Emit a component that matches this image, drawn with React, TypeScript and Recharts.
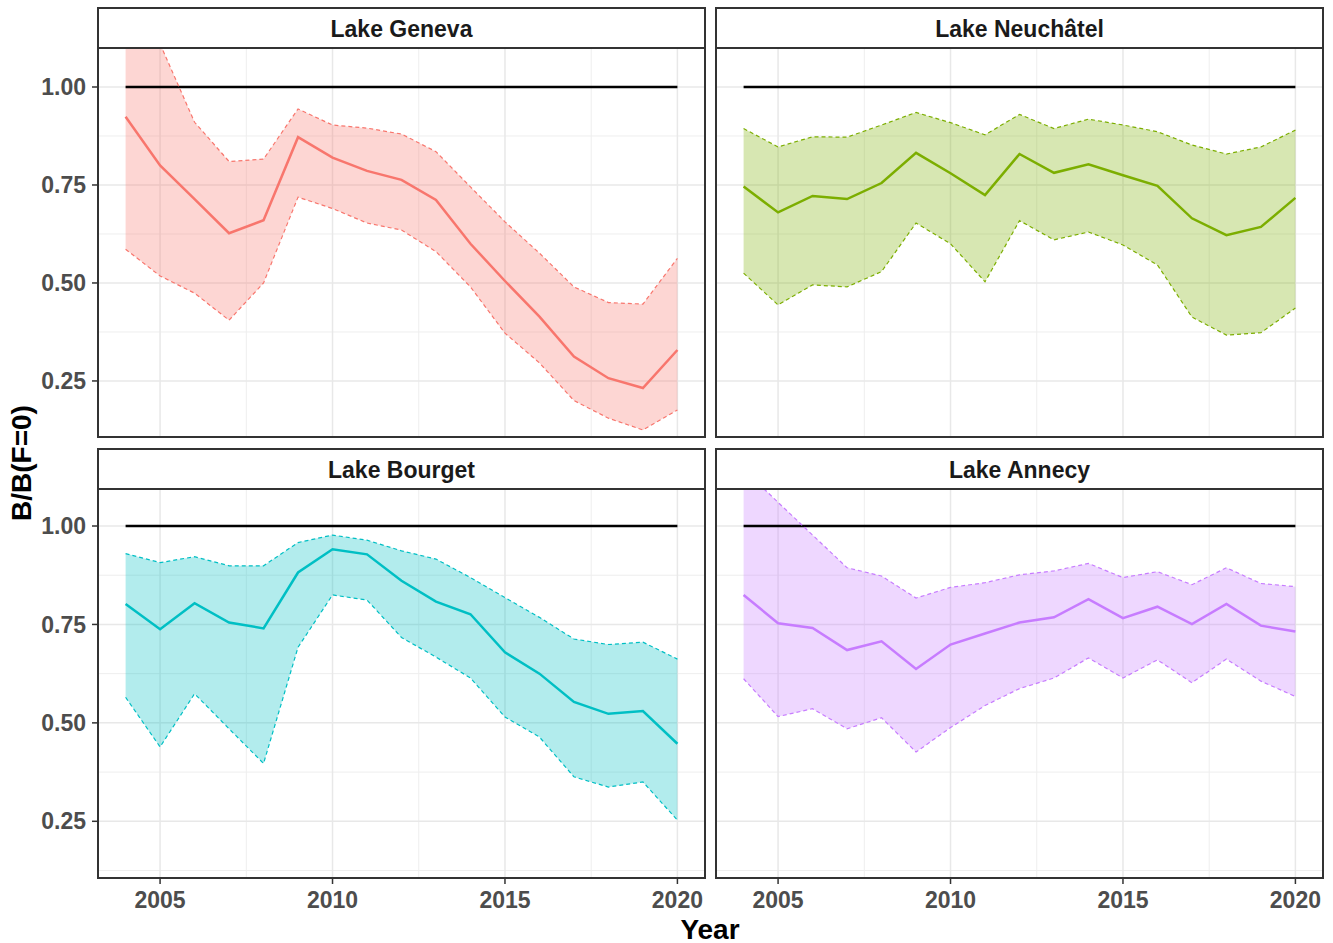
import { ComposedChart, Area, Line, XAxis, YAxis, CartesianGrid, ReferenceLine } from 'recharts'

const FONT = '"Liberation Sans", Arial, Helvetica, sans-serif'

const YEARS = [2004, 2005, 2006, 2007, 2008, 2009, 2010, 2011, 2012, 2013, 2014, 2015, 2016, 2017, 2018, 2019, 2020]

const GENEVA_EST = [0.924, 0.8, 0.714, 0.627, 0.66, 0.872, 0.82, 0.786, 0.763, 0.712, 0.6, 0.505, 0.414, 0.312, 0.257, 0.232, 0.329]
const GENEVA_LO = [0.586, 0.518, 0.474, 0.405, 0.5, 0.719, 0.69, 0.653, 0.635, 0.58, 0.49, 0.372, 0.296, 0.2, 0.155, 0.125, 0.176]
const GENEVA_HI = [1.4, 1.11, 0.91, 0.81, 0.816, 0.944, 0.903, 0.895, 0.88, 0.835, 0.745, 0.656, 0.576, 0.49, 0.45, 0.446, 0.563]

const NEUCHATEL_EST = [0.746, 0.68, 0.722, 0.714, 0.755, 0.832, 0.78, 0.724, 0.829, 0.781, 0.803, 0.775, 0.748, 0.665, 0.622, 0.643, 0.717]
const NEUCHATEL_LO = [0.525, 0.444, 0.495, 0.49, 0.529, 0.653, 0.6, 0.503, 0.659, 0.61, 0.63, 0.597, 0.546, 0.413, 0.367, 0.373, 0.436]
const NEUCHATEL_HI = [0.894, 0.847, 0.873, 0.872, 0.903, 0.935, 0.909, 0.878, 0.93, 0.894, 0.918, 0.903, 0.886, 0.852, 0.829, 0.847, 0.89]

const BOURGET_EST = [0.802, 0.738, 0.804, 0.755, 0.74, 0.882, 0.941, 0.928, 0.861, 0.808, 0.776, 0.679, 0.625, 0.553, 0.523, 0.53, 0.447]
const BOURGET_LO = [0.565, 0.439, 0.574, 0.485, 0.397, 0.692, 0.825, 0.812, 0.717, 0.667, 0.614, 0.515, 0.464, 0.363, 0.337, 0.35, 0.253]
const BOURGET_HI = [0.93, 0.907, 0.922, 0.899, 0.899, 0.958, 0.977, 0.964, 0.937, 0.916, 0.869, 0.818, 0.768, 0.713, 0.699, 0.705, 0.662]

const ANNECY_EST = [0.825, 0.753, 0.741, 0.685, 0.707, 0.637, 0.699, 0.727, 0.755, 0.768, 0.814, 0.766, 0.795, 0.751, 0.802, 0.747, 0.732]
const ANNECY_LO = [0.612, 0.516, 0.536, 0.485, 0.513, 0.426, 0.488, 0.544, 0.587, 0.614, 0.665, 0.614, 0.66, 0.602, 0.662, 0.606, 0.567]
const ANNECY_HI = [1.144, 1.06, 0.977, 0.894, 0.873, 0.817, 0.844, 0.856, 0.876, 0.886, 0.905, 0.869, 0.884, 0.851, 0.894, 0.854, 0.846]

const REF_LEVEL = 1
const X_TICKS = [2005, 2010, 2015, 2020]
const X_MINOR = [2007.5, 2012.5, 2017.5]
const Y_TICKS = [0.25, 0.5, 0.75, 1.0]
const Y_MINOR = [0.125, 0.375, 0.625, 0.875]

const PLOT_W = 607
const PLOT_H = 389
const Y_AXIS_W = 98

const tickStyle = { fontSize: 23, fontWeight: 700, fill: '#4D4D4D', fontFamily: FONT }

interface PanelProps {
  title: string
  est: number[]
  lo: number[]
  hi: number[]
  color: string
  plotLeft: number
  plotTop: number
  showX: boolean
  showY: boolean
  yDomain: [number, number]
}

function Panel({ title, est, lo, hi, color, plotLeft, plotTop, showX, showY, yDomain }: PanelProps) {
  const data = YEARS.map((year, i) => ({ year, est: est[i], lo: lo[i], hi: hi[i], band: [lo[i], hi[i]] }))
  const chartLeft = showY ? plotLeft - Y_AXIS_W : plotLeft
  const w = PLOT_W + (showY ? Y_AXIS_W : 0)
  const h = PLOT_H + (showX ? 50 : 0)

  return (
    <>
      <div style={{ position: 'absolute', left: chartLeft, top: plotTop }}>
        <ComposedChart width={w} height={h} data={data} margin={{ top: 0, right: 0, bottom: 0, left: 0 }}>
          <CartesianGrid horizontalValues={Y_MINOR} verticalValues={X_MINOR} stroke="#EEEEEE" strokeWidth={1} />
          <CartesianGrid horizontalValues={Y_TICKS} verticalValues={X_TICKS} stroke="#E8E8E8" strokeWidth={1.5} />
          <XAxis
            dataKey="year"
            type="number"
            domain={[2003.2, 2020.8]}
            ticks={X_TICKS}
            allowDataOverflow
            hide={!showX}
            height={50}
            axisLine={false}
            tickSize={6}
            tickMargin={8}
            tickLine={{ stroke: '#333333', strokeWidth: 1.5 }}
            tick={tickStyle}
          />
          <YAxis
            type="number"
            domain={yDomain}
            ticks={Y_TICKS}
            allowDataOverflow
            hide={!showY}
            width={Y_AXIS_W}
            axisLine={false}
            tickSize={6}
            tickMargin={6}
            tickLine={{ stroke: '#333333', strokeWidth: 1.5 }}
            tick={tickStyle}
            tickFormatter={(v: number) => v.toFixed(2)}
          />
          <ReferenceLine
            segment={[
              { x: YEARS[0], y: REF_LEVEL },
              { x: YEARS[YEARS.length - 1], y: REF_LEVEL },
            ]}
            stroke="#000000"
            strokeWidth={2.6}
          />
          <Area
            dataKey="band"
            type="linear"
            fill={color}
            fillOpacity={0.3}
            stroke="none"
            isAnimationActive={false}
          />
          <Line dataKey="lo" type="linear" stroke={color} strokeWidth={1.2} strokeDasharray="4 3" dot={false} isAnimationActive={false} />
          <Line dataKey="hi" type="linear" stroke={color} strokeWidth={1.2} strokeDasharray="4 3" dot={false} isAnimationActive={false} />
          <Line dataKey="est" type="linear" stroke={color} strokeWidth={2.5} dot={false} isAnimationActive={false} />
        </ComposedChart>
      </div>
      <div
        style={{
          position: 'absolute',
          left: plotLeft - 1,
          top: plotTop - 1,
          width: PLOT_W + 2,
          height: PLOT_H + 2,
          boxSizing: 'border-box',
          border: '2px solid #333333',
          pointerEvents: 'none',
        }}
      />
      <div
        style={{
          position: 'absolute',
          left: plotLeft - 1,
          top: plotTop - 41,
          width: PLOT_W + 2,
          height: 42,
          boxSizing: 'border-box',
          border: '2px solid #333333',
          background: '#ffffff',
          display: 'flex',
          alignItems: 'center',
          justifyContent: 'center',
          paddingTop: 3,
          fontFamily: FONT,
          fontWeight: 700,
          fontSize: 23,
          color: '#1A1A1A',
        }}
      >
        {title}
      </div>
    </>
  )
}

export default function App() {
  return (
    <div style={{ position: 'absolute', left: 0, top: 0, width: 1333, height: 943, background: '#ffffff' }}>
      <Panel title="Lake Geneva" est={GENEVA_EST} lo={GENEVA_LO} hi={GENEVA_HI} color="#F8766D"
        plotLeft={98} plotTop={48} showX={false} showY yDomain={[0.107, 1.0995]} />
      <Panel title="Lake Neuchâtel" est={NEUCHATEL_EST} lo={NEUCHATEL_LO} hi={NEUCHATEL_HI} color="#7CAE00"
        plotLeft={716} plotTop={48} showX={false} showY={false} yDomain={[0.107, 1.0995]} />
      <Panel title="Lake Bourget" est={BOURGET_EST} lo={BOURGET_LO} hi={BOURGET_HI} color="#00BFC4"
        plotLeft={98} plotTop={489} showX showY yDomain={[0.106, 1.094]} />
      <Panel title="Lake Annecy" est={ANNECY_EST} lo={ANNECY_LO} hi={ANNECY_HI} color="#C77CFF"
        plotLeft={716} plotTop={489} showX showY={false} yDomain={[0.106, 1.094]} />
      <div style={{ position: 'absolute', left: 560, top: 916, width: 300, textAlign: 'center', fontFamily: FONT, fontWeight: 700, fontSize: 28, lineHeight: '28px', color: '#000000' }}>
        Year
      </div>
      <div style={{ position: 'absolute', left: -78, top: 449, width: 200, height: 28, textAlign: 'center', fontFamily: FONT, fontWeight: 700, fontSize: 28, lineHeight: '28px', color: '#000000', transform: 'rotate(-90deg)' }}>
        B/B(F=0)
      </div>
    </div>
  )
}
